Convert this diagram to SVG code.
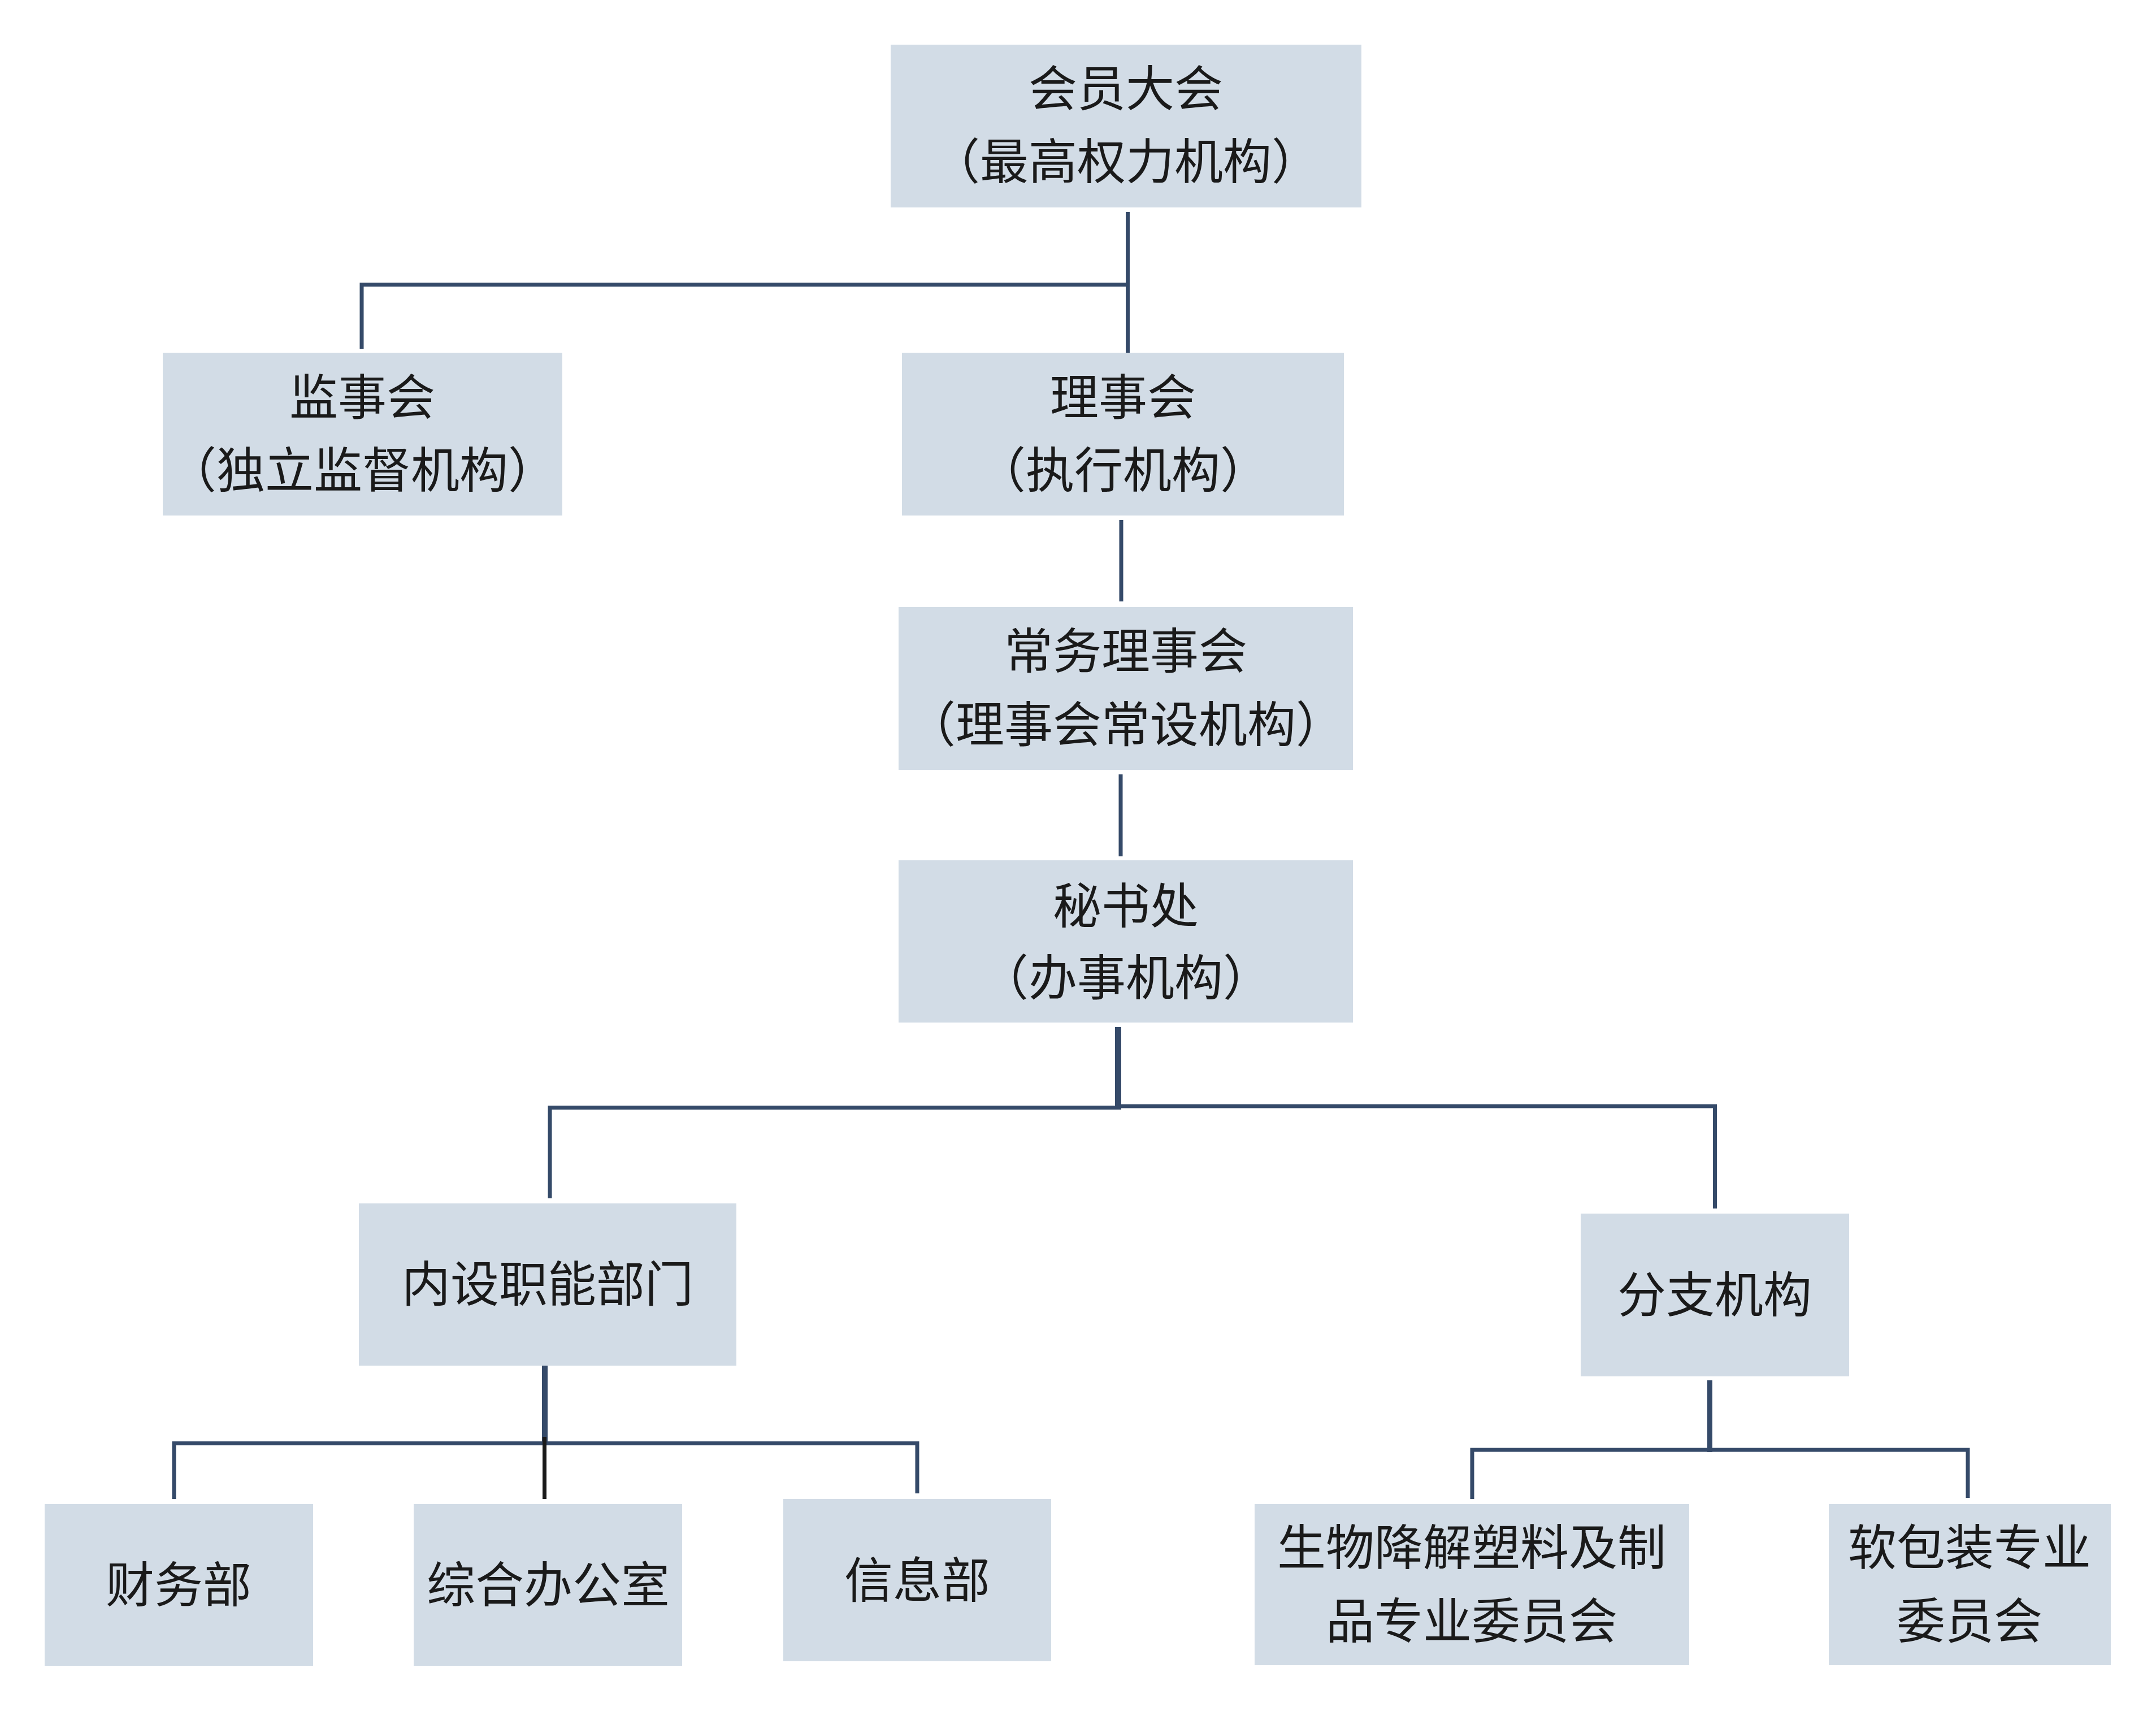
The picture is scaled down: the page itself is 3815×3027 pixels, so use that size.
<svg xmlns="http://www.w3.org/2000/svg" width="3815" height="3027" viewBox="0 0 3815 3027">
<style>
.box{fill:#d2dce6}
.t{font-family:"Noto Sans CJK SC","Noto Sans",sans-serif;font-size:86px;fill:#1a1a1a;text-anchor:middle;dominant-baseline:central}
.c{stroke:#354a69;stroke-width:7;fill:none;stroke-linecap:butt}
.k{stroke:#1a1a1a;stroke-width:7;fill:none}
</style>
<rect width="3815" height="3027" fill="#ffffff"/>
<g id="connectors">
<line class="c" x1="1995.5" y1="375" x2="1995.5" y2="631"/>
<polyline class="c" points="640,617 640,503.5 1995.5,503.5"/>
<line class="c" x1="1984" y1="920" x2="1984" y2="1064"/>
<line class="c" x1="1983" y1="1370" x2="1983" y2="1515"/>
<line class="c" x1="1978.5" y1="1817" x2="1978.5" y2="1963" style="stroke-width:11"/>
<polyline class="c" points="973,2120 973,1959.5 1978.5,1959.5"/>
<polyline class="c" points="1978.5,1957 3034.5,1957 3034.5,2138"/>
<line class="c" x1="964" y1="2412" x2="964" y2="2550" style="stroke-width:10"/>
<polyline class="c" points="308,2652 308,2553.5 1623,2553.5 1623,2642"/>
<line class="k" x1="963.5" y1="2542" x2="963.5" y2="2652"/>
<line class="c" x1="3025.5" y1="2442" x2="3025.5" y2="2569" style="stroke-width:9"/>
<polyline class="c" points="2605,2652 2605,2565 3482,2565 3482,2650"/>
</g>
<g id="n1"><rect class="box" x="1576" y="79" width="833" height="288"/><text class="t" x="1992" y="150">会员大会</text><text class="t" x="1992" y="279">（最高权力机构）</text></g>
<g id="n2"><rect class="box" x="288" y="624" width="707" height="288"/><text class="t" x="641" y="696">监事会</text><text class="t" x="641" y="825">（独立监督机构）</text></g>
<g id="n3"><rect class="box" x="1596" y="624" width="782" height="288"/><text class="t" x="1987" y="696">理事会</text><text class="t" x="1987" y="825">（执行机构）</text></g>
<g id="n4"><rect class="box" x="1590" y="1074" width="804" height="288"/><text class="t" x="1992" y="1145">常务理事会</text><text class="t" x="1992" y="1275">（理事会常设机构）</text></g>
<g id="n5"><rect class="box" x="1590" y="1522" width="804" height="287"/><text class="t" x="1992" y="1596">秘书处</text><text class="t" x="1992" y="1723">（办事机构）</text></g>
<g id="n6"><rect class="box" x="635" y="2129" width="668" height="287"/><text class="t" x="969" y="2265">内设职能部门</text></g>
<g id="n7"><rect class="box" x="2797" y="2147" width="475" height="288"/><text class="t" x="3034" y="2284">分支机构</text></g>
<g id="n8"><rect class="box" x="79" y="2661" width="475" height="286"/><text class="t" x="316" y="2797">财务部</text></g>
<g id="n9"><rect class="box" x="732" y="2661" width="475" height="286"/><text class="t" x="970" y="2797">综合办公室</text></g>
<g id="n10"><rect class="box" x="1386" y="2652" width="474" height="287"/><text class="t" x="1623" y="2789">信息部</text></g>
<g id="n11"><rect class="box" x="2220" y="2661" width="769" height="285"/><text class="t" x="2604" y="2731">生物降解塑料及制</text><text class="t" x="2604" y="2861">品专业委员会</text></g>
<g id="n12"><rect class="box" x="3236" y="2661" width="499" height="285"/><text class="t" x="3485" y="2731">软包装专业</text><text class="t" x="3485" y="2861">委员会</text></g>
</svg>
